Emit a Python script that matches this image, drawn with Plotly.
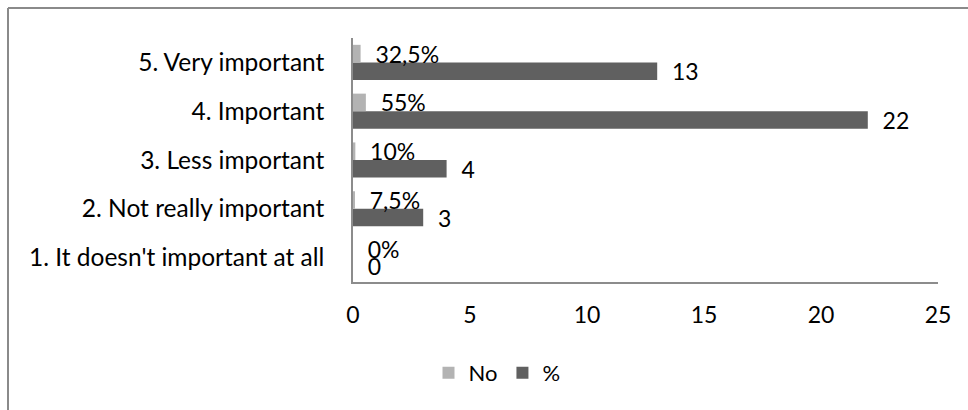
import plotly.graph_objects as go

# Data
categories = [
    "1. It doesn't important at all",
    "2. Not really important",
    "3. Less important",
    "4. Important",
    "5. Very important",
]
no_share = [0.0, 0.075, 0.10, 0.55, 0.325]   # series "No" (fractions)
pct_count = [0, 3, 4, 22, 13]                 # series "%"
x_ticks = [0, 5, 10, 15, 20, 25]

def pct_label(v):
    s = f"{round(v * 100, 1):g}".replace(".", ",")
    return s + "%"

no_text = ["\u00a0\u00a0" + pct_label(v) for v in no_share]
cnt_text = ["\u00a0\u00a0" + str(v) for v in pct_count]

FONT = "Lato"
FS = 23
LIGHT = "#b3b3b3"
DARK = "#606060"
AXIS = "#8c8c8c"

fig = go.Figure()
fig.add_trace(go.Bar(
    y=categories, x=pct_count, orientation="h", name="%",
    marker=dict(color=DARK, line=dict(width=0)),
    text=cnt_text, textposition="outside", cliponaxis=False,
    constraintext="none",
    textfont=dict(family=FONT, size=FS, color="#000"),
))
fig.add_trace(go.Bar(
    y=categories, x=no_share, orientation="h", name="No",
    marker=dict(color=LIGHT, line=dict(width=0)),
    text=no_text, textposition="outside", cliponaxis=False,
    constraintext="none",
    textfont=dict(family=FONT, size=FS, color="#000"),
))

# plot area: x 353..938, y 38..282
L, R, T, B = 353, 938, 38, 282
W, H = 968, 410
pw, ph = R - L, B - T

def px_x(px):
    return (px - L) / pw

def px_y(py):
    return (B - py) / ph

fig.update_layout(
    width=W, height=H,
    margin=dict(l=L, r=W - R, t=T, b=H - B, pad=0),
    paper_bgcolor="white", plot_bgcolor="white",
    barmode="group", bargap=0.28, bargroupgap=0,
    font=dict(family=FONT, size=FS, color="#000"),
    showlegend=True,
    legend=dict(
        orientation="h", traceorder="reversed",
        x=px_x(497), y=px_y(373), xanchor="center", yanchor="middle",
        font=dict(family=FONT, size=FS - 1, color="#000"),
        itemwidth=30, tracegroupgap=0,
        bgcolor="rgba(0,0,0,0)",
    ),
    xaxis=dict(
        range=[0, 25], tickvals=x_ticks, ticktext=[str(t) for t in x_ticks],
        showgrid=False, zeroline=False,
        showline=True, linecolor=AXIS, linewidth=1.5,
        ticks="", ticklabelstandoff=12,
        tickfont=dict(family=FONT, size=FS, color="#000"),
        fixedrange=True,
    ),
    yaxis=dict(
        type="category", categoryorder="array", categoryarray=categories,
        showgrid=False, zeroline=False,
        showline=True, linecolor=AXIS, linewidth=1.5,
        ticks="", ticklabelstandoff=22,
        tickfont=dict(family=FONT, size=24.5, color="#000"),
        fixedrange=True,
    ),
    shapes=[
        dict(type="line", xref="paper", yref="paper",
             x0=px_x(8), x1=px_x(8), y0=px_y(8), y1=px_y(420),
             line=dict(color="#8a8a8a", width=2)),
        dict(type="line", xref="paper", yref="paper",
             x0=px_x(8), x1=px_x(980), y0=px_y(8), y1=px_y(8),
             line=dict(color="#8a8a8a", width=2)),
    ],
)

fig.write_html("out.html")
